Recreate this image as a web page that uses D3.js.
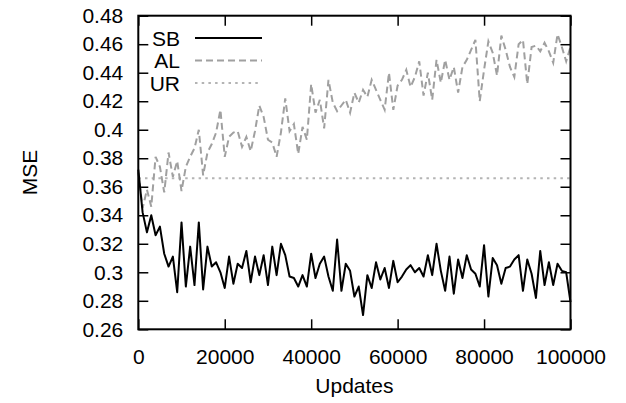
<!DOCTYPE html>
<html>
<head>
<meta charset="utf-8">
<script src="https://cdn.jsdelivr.net/npm/d3@7"></script>
<style>
    body { margin: 0; background: #fff; }
    text { font-family: "Liberation Sans", Arial, sans-serif; font-size: 21px; fill: #000; }
</style>
</head>
<body>
<div id="chart"></div>
<script>
// x positions (updates) shared by both series
const updates = [
    0, 1000, 2000, 3000, 4000, 5000, 6000, 7000, 8000, 9000,
    10000, 11000, 12000, 13000, 14000, 15000, 16000, 17000, 18000, 19000,
    20000, 21000, 22000, 23000, 24000, 25000, 26000, 27000, 28000, 29000,
    30000, 31000, 32000, 33000, 34000, 35000, 36000, 37000, 38000, 39000,
    40000, 41000, 42000, 43000, 44000, 45000, 46000, 47000, 48000, 49000,
    50000, 51000, 52000, 53000, 54000, 55000, 56000, 57000, 58000, 59000,
    60000, 61000, 62000, 63000, 64000, 65000, 66000, 67000, 68000, 69000,
    70000, 71000, 72000, 73000, 74000, 75000, 76000, 77000, 78000, 79000,
    80000, 81000, 82000, 83000, 84000, 85000, 86000, 87000, 88000, 89000,
    90000, 91000, 92000, 93000, 94000, 95000, 96000, 97000, 98000, 99000,
    100000
];

// MSE values
const sbMSE = [
    0.372, 0.342, 0.328, 0.340, 0.326, 0.332, 0.313, 0.304, 0.311, 0.286,
    0.335, 0.290, 0.318, 0.291, 0.335, 0.288, 0.318, 0.304, 0.307, 0.300,
    0.289, 0.311, 0.292, 0.306, 0.303, 0.315, 0.293, 0.311, 0.298, 0.312,
    0.291, 0.318, 0.298, 0.320, 0.312, 0.297, 0.296, 0.290, 0.298, 0.290,
    0.313, 0.296, 0.306, 0.311, 0.297, 0.287, 0.323, 0.287, 0.306, 0.301,
    0.283, 0.290, 0.270, 0.298, 0.289, 0.307, 0.295, 0.303, 0.289, 0.308,
    0.293, 0.297, 0.302, 0.305, 0.300, 0.303, 0.297, 0.312, 0.298, 0.320,
    0.301, 0.287, 0.311, 0.285, 0.309, 0.296, 0.312, 0.302, 0.299, 0.290,
    0.319, 0.283, 0.310, 0.305, 0.292, 0.303, 0.304, 0.309, 0.312, 0.287,
    0.309, 0.299, 0.282, 0.315, 0.291, 0.307, 0.291, 0.306, 0.301, 0.300,
    0.279
];

const alMSE = [
    0.370, 0.345, 0.358, 0.346, 0.381, 0.374, 0.356, 0.384, 0.367, 0.378,
    0.357, 0.374, 0.381, 0.387, 0.400, 0.368, 0.384, 0.390, 0.398, 0.414,
    0.381, 0.395, 0.398, 0.399, 0.388, 0.395, 0.385, 0.399, 0.417, 0.409,
    0.393, 0.391, 0.381, 0.398, 0.422, 0.399, 0.404, 0.383, 0.402, 0.393,
    0.432, 0.412, 0.421, 0.401, 0.435, 0.419, 0.413, 0.417, 0.421, 0.412,
    0.426, 0.419, 0.428, 0.423, 0.435, 0.428, 0.421, 0.414, 0.440, 0.414,
    0.431, 0.435, 0.442, 0.430, 0.437, 0.448, 0.424, 0.440, 0.421, 0.449,
    0.433, 0.449, 0.435, 0.444, 0.426, 0.444, 0.449, 0.456, 0.463, 0.420,
    0.442, 0.462, 0.454, 0.438, 0.466, 0.456, 0.444, 0.437, 0.460, 0.463,
    0.432, 0.458, 0.459, 0.455, 0.461, 0.455, 0.447, 0.467, 0.458, 0.448,
    0.458
];

// UR is a flat reference level
const urMSE = 0.366;

const seriesNames = ["SB", "AL", "UR"];
const xTicks = [0, 20000, 40000, 60000, 80000, 100000];
const yTicks = [0.26, 0.28, 0.3, 0.32, 0.34, 0.36, 0.38, 0.4, 0.42, 0.44, 0.46, 0.48];

var width = 626, height = 403;
var margin = { top: 15.7, right: 55.5, bottom: 73.7, left: 138.3 };
var plotW = width - margin.left - margin.right;
var plotH = height - margin.top - margin.bottom;
var TICK = 10;

var svg = d3.select("#chart").append("svg")
    .attr("width", width)
    .attr("height", height);

var g = svg.append("g")
    .attr("transform", "translate(" + margin.left + "," + margin.top + ")");

var x = d3.scaleLinear().domain([0, 100000]).range([0, plotW]);
var y = d3.scaleLinear().domain([0.26, 0.48]).range([plotH, 0]);

// Axes: gnuplot style, inward ticks mirrored on all four sides
var fmtY = d => String(+d.toFixed(2));

g.append("g")
    .attr("transform", "translate(0," + plotH + ")")
    .call(d3.axisBottom(x).tickValues(xTicks).tickSize(-TICK).tickPadding(20).tickFormat(d3.format("d")))
    .call(a => a.select(".domain").remove());

g.append("g")
    .call(d3.axisTop(x).tickValues(xTicks).tickSize(-TICK).tickFormat(""))
    .call(a => a.select(".domain").remove());

g.append("g")
    .call(d3.axisLeft(y).tickValues(yTicks).tickSize(-TICK).tickPadding(15).tickFormat(fmtY))
    .call(a => a.select(".domain").remove());

g.append("g")
    .attr("transform", "translate(" + plotW + ",0)")
    .call(d3.axisRight(y).tickValues(yTicks).tickSize(-TICK).tickFormat(""))
    .call(a => a.select(".domain").remove());

g.selectAll(".tick line").attr("stroke", "#000").attr("stroke-width", 1.5);
g.selectAll(".tick text")
    .style("font-family", "'Liberation Sans', Arial, sans-serif")
    .style("font-size", "21px")
    .attr("fill", "#000");

// Lines
var line = d3.line()
    .x((d, i) => x(updates[i]))
    .y(d => y(d));

g.append("path")
    .datum([urMSE, urMSE])
    .attr("fill", "none")
    .attr("stroke", "#b4b4b4")
    .attr("stroke-width", 2)
    .attr("stroke-dasharray", "2.5,4.2")
    .attr("d", d3.line().x((d, i) => x(i ? 100000 : 0)).y(d => y(d)));

g.append("path")
    .datum(alMSE)
    .attr("fill", "none")
    .attr("stroke", "#a0a0a0")
    .attr("stroke-width", 2)
    .attr("stroke-dasharray", "7,4")
    .attr("d", line);

g.append("path")
    .datum(sbMSE)
    .attr("fill", "none")
    .attr("stroke", "#000")
    .attr("stroke-width", 2)
    .attr("stroke-linejoin", "round")
    .attr("d", line);

// Frame
g.append("rect")
    .attr("width", plotW)
    .attr("height", plotH)
    .attr("fill", "none")
    .attr("stroke", "#000")
    .attr("stroke-width", 2);

// Legend (top left, inside the frame)
var legendStyles = [
    { stroke: "#000", dash: null },
    { stroke: "#a0a0a0", dash: "7,4" },
    { stroke: "#b4b4b4", dash: "2.5,4.2" }
];
var legend = svg.append("g");
seriesNames.forEach((name, i) => {
    var ly = 38 + i * 22.5;
    legend.append("text")
        .attr("x", 180)
        .attr("y", ly)
        .attr("dy", "0.36em")
        .attr("text-anchor", "end")
        .text(name);
    legend.append("line")
        .attr("x1", 195).attr("x2", 262)
        .attr("y1", ly).attr("y2", ly)
        .attr("stroke", legendStyles[i].stroke)
        .attr("stroke-width", 2)
        .attr("stroke-dasharray", legendStyles[i].dash);
});

// Axis titles
svg.append("text")
    .attr("x", margin.left + plotW / 2)
    .attr("y", 393)
    .attr("text-anchor", "middle")
    .text("Updates");

svg.append("text")
    .attr("transform", "translate(37," + (margin.top + plotH / 2) + ") rotate(-90)")
    .attr("text-anchor", "middle")
    .text("MSE");
</script>
</body>
</html>
